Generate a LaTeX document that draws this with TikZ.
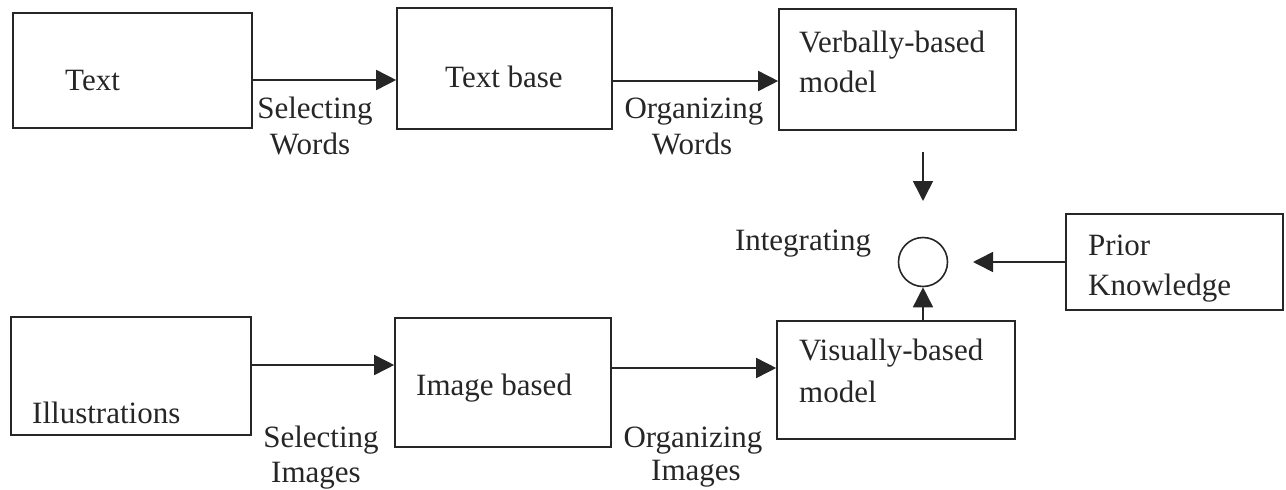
\documentclass[tikz,border=0pt]{standalone}
\usepackage{fontspec}
\setmainfont{Liberation Serif}
\usetikzlibrary{arrows.meta}
\begin{document}
\begin{tikzpicture}[x=1pt,y=-1pt,
  box/.style={draw=black!85, line width=1.6pt, rectangle, inner sep=0pt},
  lbl/.style={anchor=base west, inner sep=0pt, text=black!85, font=\fontsize{31}{36}\selectfont},
  clbl/.style={anchor=base, inner sep=0pt, text=black!85, font=\fontsize{31}{36}\selectfont},
  arr/.style={draw=black!85, line width=1.6pt, -{Triangle[length=20pt,width=20pt]}}]
\useasboundingbox (0,0) rectangle (1286,490);
% boxes
\node[box, minimum width=239pt, minimum height=115pt] (text) at (132.5,70.5) {};
\node[box, minimum width=215pt, minimum height=121pt] (tbase) at (504.5,68.5) {};
\node[box, minimum width=237pt, minimum height=121pt] (verb) at (897.5,69.5) {};
\node[box, minimum width=240pt, minimum height=118pt] (illus) at (131,376) {};
\node[box, minimum width=216pt, minimum height=129pt] (ibase) at (503,382.5) {};
\node[box, minimum width=238pt, minimum height=118pt] (vis) at (896,380) {};
\node[box, minimum width=217pt, minimum height=96pt] (prior) at (1174.5,262) {};
\node[draw=black!85, line width=1.6pt, circle, minimum size=49pt, inner sep=0pt] (circ) at (923,262) {};
% texts in boxes
\node[lbl] (ttext) at (65,90) {Text};
\node[lbl] (ttbase) at (445,87) {Text base};
\node[lbl] (tverb1) at (799,52) {Verbally-based};
\node[lbl] (tverb2) at (799,92) {model};
\node[lbl] (tillus) at (32,423) {Illustrations};
\node[lbl] (tibase) at (416,395) {Image based};
\node[lbl] (tvis1) at (799,360) {Visually-based};
\node[lbl] (tvis2) at (799,402) {model};
\node[lbl] (tprior1) at (1088,255) {Prior};
\node[lbl] (tprior2) at (1088,295) {Knowledge};
% connector labels
\node[clbl] (sw1) at (315,118) {Selecting};
\node[clbl] (sw2) at (310,154) {Words};
\node[clbl] (ow1) at (694,118) {Organizing};
\node[clbl] (ow2) at (692,154) {Words};
\node[clbl] (si1) at (321,447) {Selecting};
\node[clbl] (si2) at (316,482) {Images};
\node[clbl] (oi1) at (693,447) {Organizing};
\node[clbl] (oi2) at (696,480) {Images};
\node[clbl] (integ) at (803,250) {Integrating};
% connector levels
\coordinate (r1) at (0,80);
\coordinate (r2) at (0,81);
\coordinate (r3) at (0,365);
\coordinate (r4) at (0,368);
% connectors
\draw[arr] (text.east |- r1) -- (tbase.west |- r1);
\draw[arr] (tbase.east |- r2) -- (verb.west |- r2);
\draw[arr] (illus.east |- r3) -- (ibase.west |- r3);
\draw[arr] (ibase.east |- r4) -- (vis.west |- r4);
\coordinate (dtop) at (923,152);
\coordinate (dtip) at (923,201);
\draw[arr] (dtop) -- (dtip);
\draw[arr] (circ.south |- vis.north) -- (circ.south);
\coordinate (ltip) at (973,262);
\draw[arr] (prior.west) -- (ltip);
\end{tikzpicture}
\end{document}
